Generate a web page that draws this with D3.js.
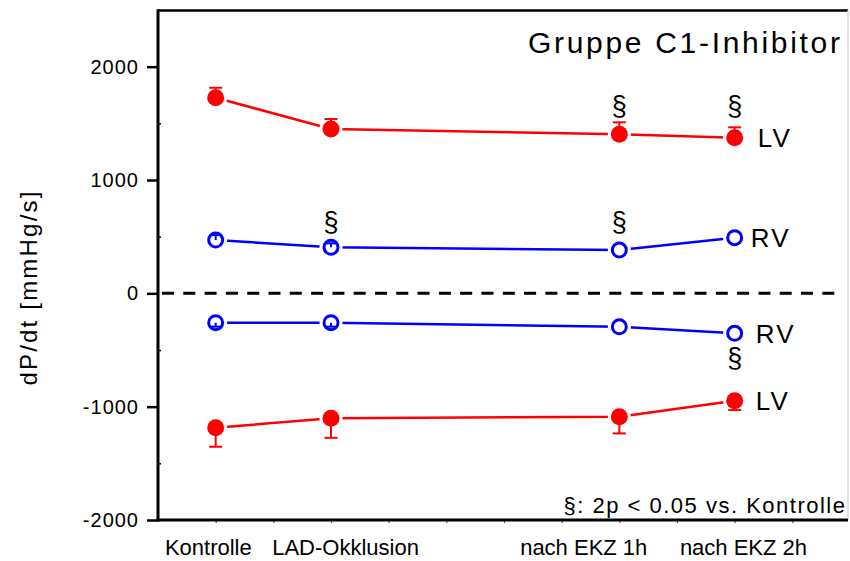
<!DOCTYPE html>
<html>
<head>
<meta charset="utf-8">
<script src="https://cdn.jsdelivr.net/npm/d3@7/dist/d3.min.js"></script>
<style>
  html, body { margin: 0; padding: 0; background: #fff; }
  svg { display: block; font-family: "Liberation Sans", Arial, Helvetica, sans-serif; }
</style>
</head>
<body>
<svg id="chart" width="850" height="561"></svg>
<script>
// Measurement points on the time axis and their names
const categories = ["Kontrolle", "LAD-Okklusion", "nach EKZ 1h", "nach EKZ 2h"];
const timePoints = [1, 3, 8, 10];

// dP/dt max (positive) and dP/dt min (negative), mean and SEM
const lvMax    = [1726, 1450, 1403, 1373];
const lvMaxSem = [88, 88, 106, 92];
const rvMax    = [470, 406, 382, 491];
const rvMaxSem = [44, 35, null, null];
const rvMin    = [-259, -259, -295, -353];
const rvMinSem = [35, 35, null, null];
const lvMin    = [-1186, -1103, -1089, -948];
const lvMinSem = [168, 172, 147, 82];

// Significance marks (§), placed at time point / value
const sigMarks = [
  { t: 8,  v: 1644 },
  { t: 10, v: 1649 },
  { t: 3,  v: 625 },
  { t: 8,  v: 620 },
  { t: 10, v: -575 }
];

const yTicks = [-2000, -1000, 0, 1000, 2000];
const yMinorTicks = [-1500, -500, 500, 1500];
const xMinorTicks = [1, 2, 3, 4, 5, 6, 7, 8, 9, 10, 11];
// left edge of each category label, in time-axis units
const categoryLabelStart = [0.12, 1.98, 6.28, 9.05];

const series = [
  { name: "LV", values: lvMax, sem: lvMaxSem, color: "#ff0000", filled: true,  labelDx: 23 },
  { name: "RV", values: rvMax, sem: rvMaxSem, color: "#0000ff", filled: false, labelDx: 16 },
  { name: "RV", values: rvMin, sem: rvMinSem, color: "#0000ff", filled: false, labelDx: 21 },
  { name: "LV", values: lvMin, sem: lvMinSem, color: "#ff0000", filled: true,  labelDx: 21 }
];

const svg = d3.select("#chart");
const plotLeft = 158, plotRight = 848, plotTop = 10, plotBottom = 520;

const x = d3.scaleLinear().domain([0, 12]).range([plotLeft, 850]);
const y = d3.scaleLinear().domain([-2000, 2500]).range([plotBottom, plotTop]);

// frame: top (black) and right (light grey)
svg.append("line").attr("x1", plotLeft).attr("x2", plotRight).attr("y1", plotTop + 0.5).attr("y2", plotTop + 0.5)
  .attr("stroke", "#000").attr("stroke-width", 2.5);
svg.append("line").attr("x1", plotRight).attr("x2", plotRight).attr("y1", plotTop).attr("y2", plotBottom)
  .attr("stroke", "#cfcfcf").attr("stroke-width", 1.2);

// y axis
const yAxis = svg.append("g").attr("transform", `translate(${plotLeft},0)`)
  .call(d3.axisLeft(y).tickValues(yTicks).tickSize(11).tickPadding(8).tickFormat(d => String(d)));
yAxis.select(".domain").remove();
yAxis.selectAll(".tick line").attr("stroke", "#000").attr("stroke-width", 2.5);
yAxis.selectAll(".tick text").attr("font-size", 20).attr("letter-spacing", 1)
  .attr("fill", "#000").attr("font-family", "Liberation Sans, Arial, sans-serif");

const yMinor = svg.append("g").attr("transform", `translate(${plotLeft},0)`)
  .call(d3.axisRight(y).tickValues(yMinorTicks).tickSize(3).tickFormat(""));
yMinor.select(".domain").remove();
yMinor.selectAll(".tick line").attr("stroke", "#000").attr("stroke-width", 1.5);

// x axis minor ticks
const xMinor = svg.append("g").attr("transform", `translate(0,${plotBottom})`)
  .call(d3.axisBottom(x).tickValues(xMinorTicks).tickSize(3).tickFormat(""));
xMinor.select(".domain").remove();
xMinor.selectAll(".tick line").attr("stroke", "#555").attr("stroke-width", 1.2);

// axis lines
svg.append("line").attr("x1", plotLeft).attr("x2", plotLeft).attr("y1", plotTop - 0.7).attr("y2", plotBottom + 1.5)
  .attr("stroke", "#000").attr("stroke-width", 3);
svg.append("line").attr("x1", plotLeft - 1.5).attr("x2", plotRight).attr("y1", plotBottom).attr("y2", plotBottom)
  .attr("stroke", "#000").attr("stroke-width", 3);

// category labels
svg.append("g").selectAll("text").data(categories).join("text")
  .attr("x", (d, i) => x(categoryLabelStart[i]))
  .attr("y", 555)
  .attr("font-size", 22)
  .attr("fill", "#000")
  .text(d => d);

// y axis title
svg.append("text")
  .attr("transform", `translate(37,${(178 + 397) / 2}) rotate(-90)`)
  .attr("text-anchor", "middle")
  .attr("font-size", 24)
  .attr("letter-spacing", 2.2)
  .attr("fill", "#000")
  .text("dP/dt [mmHg/s]");

// zero line
svg.append("line")
  .attr("x1", plotLeft + 4).attr("x2", 840)
  .attr("y1", y(0)).attr("y2", y(0))
  .attr("stroke", "#000").attr("stroke-width", 3)
  .attr("stroke-dasharray", "12,9.3");

// series lines
const line = d3.line().x((d, i) => x(timePoints[i])).y(d => y(d));
const gSeries = svg.append("g");
series.forEach(s => {
  gSeries.append("path").attr("d", line(s.values))
    .attr("fill", "none").attr("stroke", s.color).attr("stroke-width", 2.5);
});

// white halos to leave a gap between lines and markers
series.forEach(s => {
  gSeries.append("g").selectAll("circle").data(s.values).join("circle")
    .attr("cx", (d, i) => x(timePoints[i])).attr("cy", d => y(d))
    .attr("r", 11.5).attr("fill", "#fff");
});

// error bars (away from zero)
series.forEach(s => {
  const eb = s.values.map((v, i) => ({ v, e: s.sem[i], t: timePoints[i] })).filter(d => d.e != null);
  const g = gSeries.append("g").attr("stroke", s.color).attr("stroke-width", 2);
  eb.forEach(d => {
    const end = d.v + Math.sign(d.v) * d.e;
    g.append("line").attr("x1", x(d.t)).attr("x2", x(d.t)).attr("y1", y(d.v)).attr("y2", y(end));
    g.append("line").attr("x1", x(d.t) - 6.5).attr("x2", x(d.t) + 6.5).attr("y1", y(end)).attr("y2", y(end));
  });
});

// markers
series.forEach(s => {
  gSeries.append("g").selectAll("circle").data(s.values).join("circle")
    .attr("cx", (d, i) => x(timePoints[i])).attr("cy", d => y(d))
    .attr("r", s.filled ? 8.5 : 7)
    .attr("fill", s.filled ? s.color : "none")
    .attr("stroke", s.filled ? "none" : s.color)
    .attr("stroke-width", 3);
});

// series labels
series.forEach(s => {
  const last = s.values.length - 1;
  svg.append("text")
    .attr("x", x(timePoints[last]) + s.labelDx)
    .attr("y", y(s.values[last]))
    .attr("dy", "0.36em")
    .attr("font-size", 26)
    .attr("letter-spacing", 2.2)
    .attr("fill", "#000")
    .text(s.name);
});

// significance marks
svg.append("g").selectAll("text").data(sigMarks).join("text")
  .attr("x", d => x(d.t)).attr("y", d => y(d.v))
  .attr("dy", "0.3em")
  .attr("text-anchor", "middle")
  .attr("font-size", 27)
  .attr("fill", "#000")
  .text("§");

// title
svg.append("text")
  .attr("x", 840 + 2.7).attr("y", 53)
  .attr("text-anchor", "end")
  .attr("font-size", 30)
  .attr("letter-spacing", 2.7)
  .attr("fill", "#000")
  .text("Gruppe C1-Inhibitor");

// footnote
svg.append("text")
  .attr("x", 845 + 1.5).attr("y", 513)
  .attr("text-anchor", "end")
  .attr("font-size", 22)
  .attr("letter-spacing", 1.5)
  .attr("fill", "#000")
  .text("§: 2p < 0.05 vs. Kontrolle");
</script>
</body>
</html>
